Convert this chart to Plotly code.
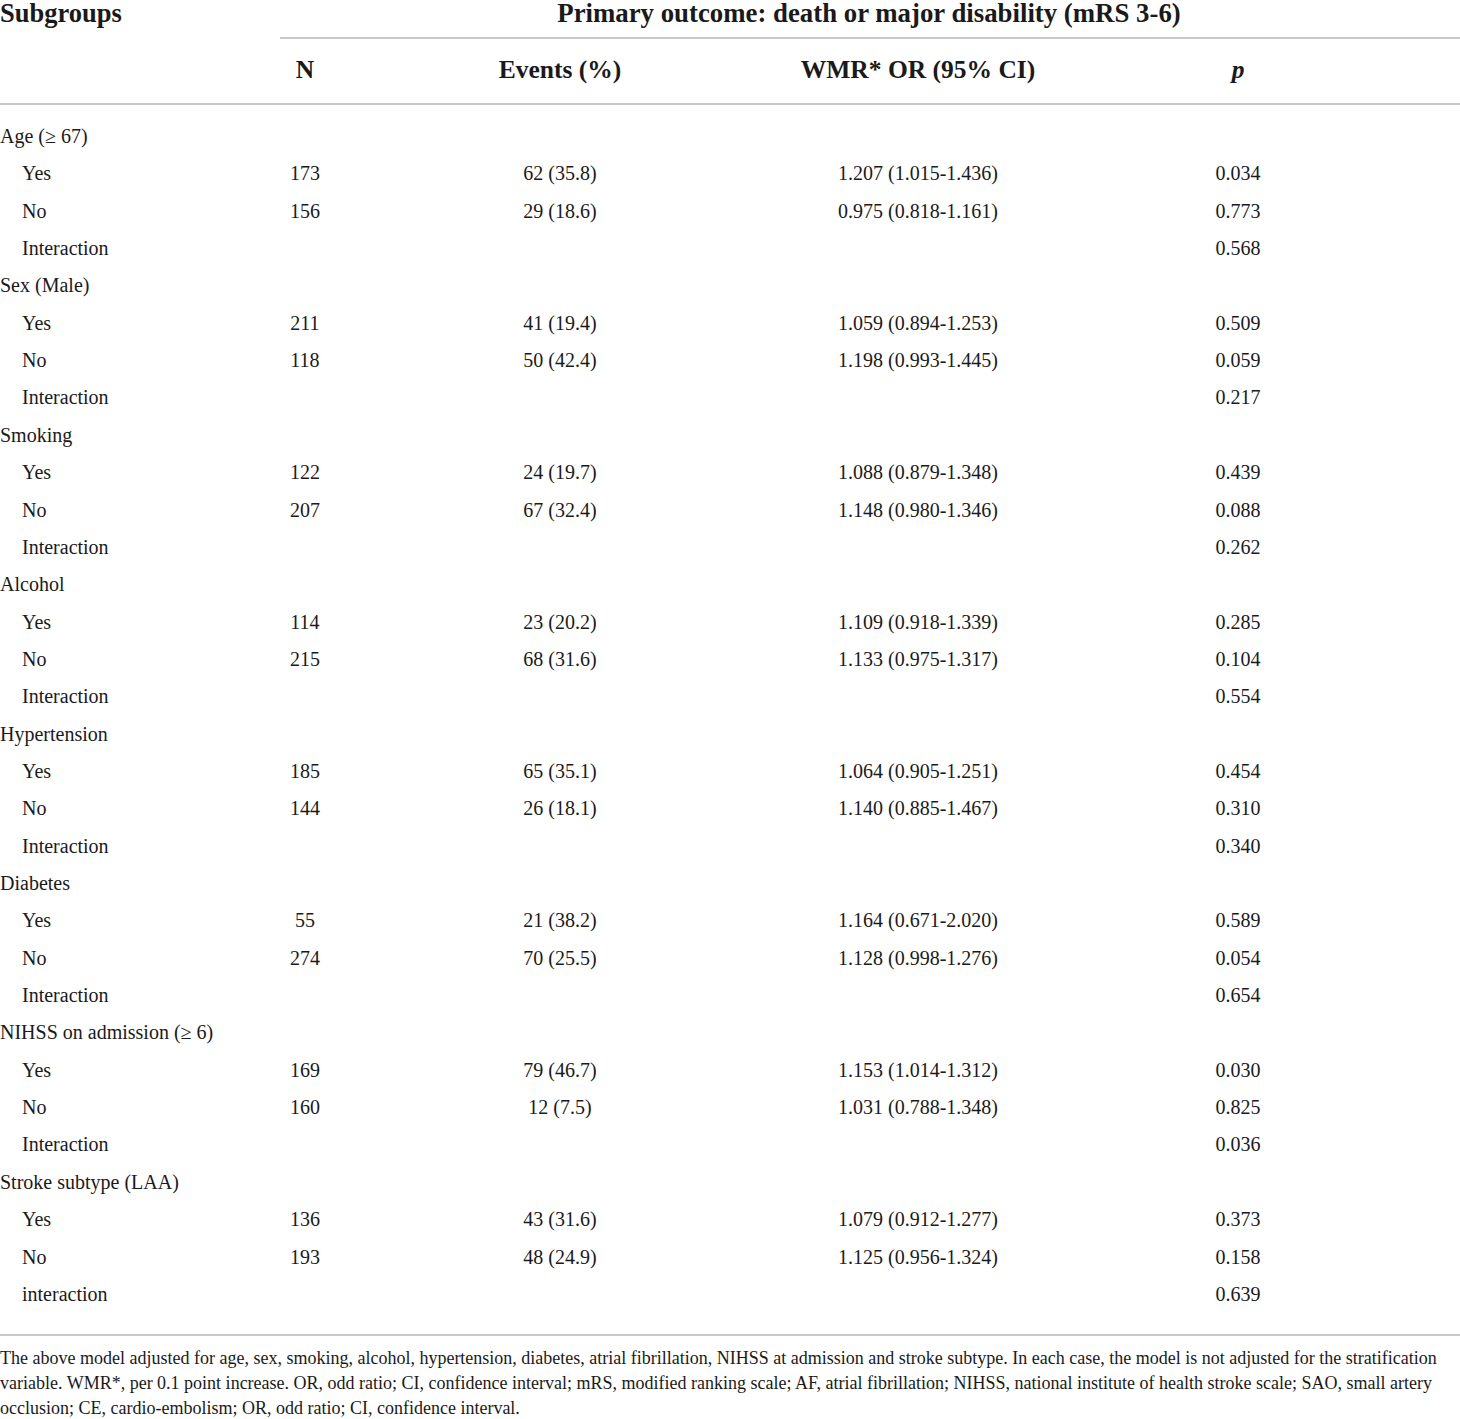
import plotly.graph_objects as go

# ---- table values ----
subgroups = ["Age (≥ 67)", "Sex (Male)", "Smoking", "Alcohol", "Hypertension",
             "Diabetes", "NIHSS on admission (≥ 6)", "Stroke subtype (LAA)"]
n_yes = [173, 211, 122, 114, 185, 55, 169, 136]
n_no = [156, 118, 207, 215, 144, 274, 160, 193]
ev_yes = [62, 41, 24, 23, 65, 21, 79, 43]
pct_yes = [35.8, 19.4, 19.7, 20.2, 35.1, 38.2, 46.7, 31.6]
ev_no = [29, 50, 67, 68, 26, 70, 12, 48]
pct_no = [18.6, 42.4, 32.4, 31.6, 18.1, 25.5, 7.5, 24.9]
or_yes = [1.207, 1.059, 1.088, 1.109, 1.064, 1.164, 1.153, 1.079]
lo_yes = [1.015, 0.894, 0.879, 0.918, 0.905, 0.671, 1.014, 0.912]
hi_yes = [1.436, 1.253, 1.348, 1.339, 1.251, 2.020, 1.312, 1.277]
or_no = [0.975, 1.198, 1.148, 1.133, 1.140, 1.128, 1.031, 1.125]
lo_no = [0.818, 0.993, 0.980, 0.975, 0.885, 0.998, 0.788, 0.956]
hi_no = [1.161, 1.445, 1.346, 1.317, 1.467, 1.276, 1.348, 1.324]
p_yes = [0.034, 0.509, 0.439, 0.285, 0.454, 0.589, 0.030, 0.373]
p_no = [0.773, 0.059, 0.088, 0.104, 0.310, 0.054, 0.825, 0.158]
p_int = [0.568, 0.217, 0.262, 0.554, 0.340, 0.654, 0.036, 0.639]
interaction_labels = ["Interaction"] * 7 + ["interaction"]

title_text = "Primary outcome: death or major disability (mRS 3-6)"
col_headers = ["N", "Events (%)", "WMR* OR (95% CI)", "<i>p</i>"]
footnote = [
    "The above model adjusted for age, sex, smoking, alcohol, hypertension, diabetes, atrial fibrillation, "
    "NIHSS at admission and stroke subtype. In each case, the model is not adjusted for the stratification",
    "variable. WMR*, per 0.1 point increase. OR, odd ratio; CI, confidence interval; mRS, modified ranking scale; "
    "AF, atrial fibrillation; NIHSS, national institute of health stroke scale; SAO, small artery",
    "occlusion; CE, cardio-embolism; OR, odd ratio; CI, confidence interval.",
]

# ---- layout constants ----
W, H = 1460, 1419
ROW_H = 37.35          # px per body row
TOP = 136              # px of first body row
TEXT_DY = 2 / ROW_H    # plotly centres text a touch high
FONT = "Liberation Serif, Times New Roman, serif"
INK = "#1a1a1a"
RULE = "#c8c8c8"
x_label, x_indent = 0, 22
x_cols = [305, 560, 918, 1238]


def px2row(p):
    return (p - TOP) / ROW_H


# build body rows
labels, indent, c_n, c_ev, c_or, c_p = [], [], [], [], [], []
for i, g in enumerate(subgroups):
    labels.append(g); indent.append(False)
    c_n.append(""); c_ev.append(""); c_or.append(""); c_p.append("")
    for n, e, pc, o, lo, hi, p, lab in [
        (n_yes[i], ev_yes[i], pct_yes[i], or_yes[i], lo_yes[i], hi_yes[i], p_yes[i], "Yes"),
        (n_no[i], ev_no[i], pct_no[i], or_no[i], lo_no[i], hi_no[i], p_no[i], "No"),
    ]:
        labels.append(lab); indent.append(True)
        c_n.append(str(n))
        c_ev.append(f"{e} ({pc:.1f})")
        c_or.append(f"{o:.3f} ({lo:.3f}-{hi:.3f})")
        c_p.append(f"{p:.3f}")
    labels.append(interaction_labels[i]); indent.append(True)
    c_n.append(""); c_ev.append(""); c_or.append(""); c_p.append(f"{p_int[i]:.3f}")

rows = [r + TEXT_DY for r in range(len(labels))]
body_font = dict(family=FONT, size=20, color=INK)

fig = go.Figure()

# row labels
fig.add_trace(go.Scatter(
    x=[x_indent if ind else x_label for ind in indent], y=rows, text=labels,
    mode="text", textposition="middle right", textfont=body_font,
    hoverinfo="skip", cliponaxis=False))

# value columns
for xc, col in zip(x_cols, [c_n, c_ev, c_or, c_p]):
    fig.add_trace(go.Scatter(
        x=[xc] * len(rows), y=rows, text=col, mode="text",
        textposition="middle center", textfont=body_font,
        hoverinfo="skip", cliponaxis=False))

# headers
title_font = dict(family=FONT, size=26.8, color=INK)
head_font = dict(family=FONT, size=25.5, color=INK)
fig.add_trace(go.Scatter(
    x=[x_label], y=[px2row(15)], text=["<b>Subgroups</b>"], mode="text",
    textposition="middle right", textfont=dict(title_font, size=26.5),
    hoverinfo="skip", cliponaxis=False))
fig.add_trace(go.Scatter(
    x=[869], y=[px2row(15)], text=[f"<b>{title_text}</b>"], mode="text",
    textposition="middle center", textfont=title_font, hoverinfo="skip", cliponaxis=False))
fig.add_trace(go.Scatter(
    x=x_cols, y=[px2row(72)] * 4, text=[f"<b>{h}</b>" for h in col_headers], mode="text",
    textposition="middle center", textfont=head_font, hoverinfo="skip", cliponaxis=False))

# horizontal rules
for x0, x1, yp in [(280, W, 38), (0, W, 104), (0, W, 1335)]:
    fig.add_shape(type="line", x0=x0, x1=x1, y0=px2row(yp), y1=px2row(yp),
                  xref="x", yref="y", line=dict(color=RULE, width=2))

# footnote
for k, line in enumerate(footnote):
    fig.add_annotation(x=0, y=px2row(1358 + 25 * k), xref="x", yref="y",
                       text=line, showarrow=False, xanchor="left", yanchor="middle",
                       xshift=-2, font=dict(family=FONT, size=18, color=INK))

fig.update_layout(
    width=W, height=H, margin=dict(l=0, r=0, t=0, b=0),
    paper_bgcolor="white", plot_bgcolor="white", showlegend=False,
    xaxis=dict(range=[0, W], visible=False, fixedrange=True),
    yaxis=dict(range=[px2row(H), px2row(0)], visible=False, fixedrange=True),
)

# drop the browser's default 8px page margin so the table sits flush
fig.write_html("out.html", config={"displayModeBar": False},
               post_script="document.body.style.margin='0';")
